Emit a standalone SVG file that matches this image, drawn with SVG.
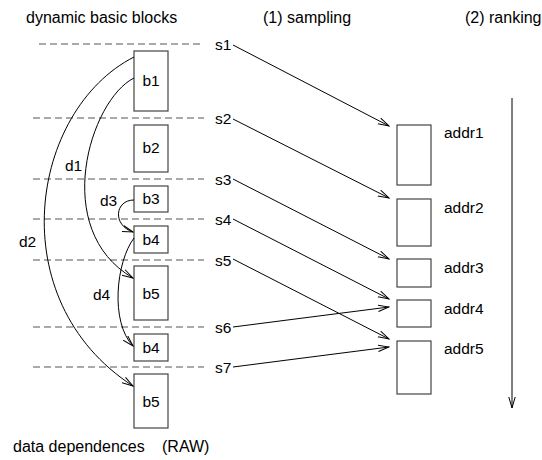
<svg xmlns="http://www.w3.org/2000/svg" width="542" height="460" viewBox="0 0 542 460">
<style>
text{font-family:"Liberation Sans",Arial,sans-serif;font-size:15.5px;fill:#000}
.hd{font-size:16px}
.box{fill:#fff;stroke:#444;stroke-width:1.2}
.dash{stroke:#555;stroke-width:1;stroke-dasharray:7,4;fill:none}
.con{stroke:#000;stroke-width:1;fill:none;marker-end:url(#ah)}
.mid{text-anchor:middle}
</style>
<defs>
<marker id="ah" viewBox="0 0 12 8" refX="11" refY="4" markerWidth="12" markerHeight="8" markerUnits="userSpaceOnUse" orient="auto">
<path d="M0,0.8 L11,4 L0,7.2" fill="none" stroke="#000" stroke-width="1"/>
</marker>
</defs>
<rect width="542" height="460" fill="#fff"/>
<g id="headers">
<text class="hd" x="26" y="23">dynamic basic blocks</text>
<text class="hd" x="263" y="23">(1) sampling</text>
<text class="hd" x="465" y="23">(2) ranking</text>
<text class="hd" x="13" y="452">data dependences</text>
<text class="hd" x="162" y="452">(RAW)</text>
</g>
<g id="samples">
<line class="dash" x1="39" y1="44" x2="204" y2="44"/>
<line class="dash" x1="33" y1="118" x2="204" y2="118"/>
<line class="dash" x1="33" y1="179" x2="204" y2="179"/>
<line class="dash" x1="33" y1="219" x2="204" y2="219"/>
<line class="dash" x1="33" y1="260" x2="204" y2="260"/>
<line class="dash" x1="33" y1="327" x2="204" y2="327"/>
<line class="dash" x1="33" y1="367" x2="204" y2="367"/>
<text x="215" y="50">s1</text>
<text x="215" y="124">s2</text>
<text x="215" y="185">s3</text>
<text x="215" y="225">s4</text>
<text x="215" y="266">s5</text>
<text x="215" y="333">s6</text>
<text x="215" y="373">s7</text>
</g>
<g id="b1"><rect class="box" x="134" y="51" width="34" height="60"/><text class="mid" x="151" y="86">b1</text></g>
<g id="b2"><rect class="box" x="134" y="125" width="34" height="47"/><text class="mid" x="151" y="153">b2</text></g>
<g id="b3"><rect class="box" x="134" y="186" width="34" height="26"/><text class="mid" x="151" y="204">b3</text></g>
<g id="b4a"><rect class="box" x="134" y="226" width="34" height="27"/><text class="mid" x="151" y="245">b4</text></g>
<g id="b5a"><rect class="box" x="134" y="266" width="34" height="54"/><text class="mid" x="151" y="299">b5</text></g>
<g id="b4b"><rect class="box" x="134" y="334" width="34" height="27"/><text class="mid" x="151" y="353">b4</text></g>
<g id="b5b"><rect class="box" x="134" y="374" width="34" height="54"/><text class="mid" x="151" y="407">b5</text></g>
<g id="addr1"><rect class="box" x="397" y="125" width="34" height="60"/><text x="444" y="138">addr1</text></g>
<g id="addr2"><rect class="box" x="397" y="199" width="34" height="47"/><text x="444" y="213">addr2</text></g>
<g id="addr3"><rect class="box" x="397" y="259" width="34" height="28"/><text x="444" y="273">addr3</text></g>
<g id="addr4"><rect class="box" x="397" y="300" width="34" height="27"/><text x="444" y="314">addr4</text></g>
<g id="addr5"><rect class="box" x="397" y="341" width="34" height="53"/><text x="444" y="354">addr5</text></g>
<g id="deps">
<text x="19" y="247">d2</text>
<text x="65" y="171">d1</text>
<text x="100" y="206">d3</text>
<text x="93" y="300">d4</text>
</g>
<g id="connectors">
<path class="con" d="M134,57 C30,110 0,300 133,386"/>
<path class="con" d="M134,78 C90,100 50,230 133,278"/>
<path class="con" d="M134,200 C115,200 112,225 133,232"/>
<path class="con" d="M134,238 C116,262 110,322 133,346"/>
<line class="con" x1="233" y1="45" x2="389" y2="126"/>
<line class="con" x1="233" y1="119" x2="389" y2="198"/>
<line class="con" x1="233" y1="179" x2="389" y2="259"/>
<line class="con" x1="233" y1="219" x2="389" y2="299"/>
<line class="con" x1="233" y1="259" x2="389" y2="339"/>
<line class="con" x1="233" y1="327" x2="389" y2="307"/>
<line class="con" x1="233" y1="367" x2="389" y2="347"/>
<line class="con" x1="512" y1="98" x2="512" y2="408"/>
</g>
</svg>
